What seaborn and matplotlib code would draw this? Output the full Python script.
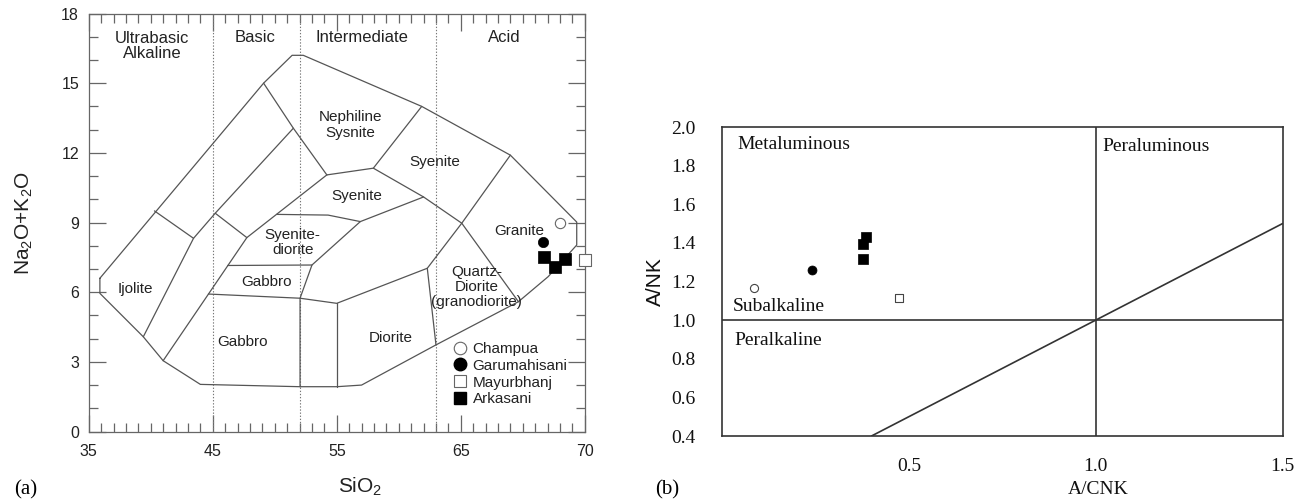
import numpy as np
import pandas as pd
import matplotlib
matplotlib.use("Agg")
import matplotlib.pyplot as plt
import seaborn as sns
from matplotlib.lines import Line2D
from matplotlib.ticker import MultipleLocator, FixedLocator

# ---------------- Panel (a): TAS diagram (plutonic) ----------------
sio2_ticks = [35, 45, 55, 65, 75]
sio2_tick_labels = ["35", "45", "55", "65", "70"]
alk_ticks = [0, 3, 6, 9, 12, 15, 18]
class_bounds = [45, 52, 63]
class_names = ["Ultrabasic\nAlkaline", "Basic", "Intermediate", "Acid"]
class_x = [40.1, 48.4, 57.0, 68.5]
class_y = [16.6, 16.95, 16.95, 16.95]

outer = [(35.9, 6.6), (35.9, 5.95), (39.4, 4.08), (41.0, 3.05), (44.0, 2.03),
         (52.04, 1.93), (55.0, 1.93), (57.0, 2.0), (63.0, 3.73), (69.65, 5.59),
         (72.05, 6.67), (74.35, 8.03), (74.35, 9.02), (69.0, 11.9), (61.85, 14.0),
         (52.3, 16.2), (51.4, 16.2), (49.1, 15.0), (35.9, 6.6)]
ijolite_top = [(40.3, 9.5), (43.45, 8.32)]
ijolite_right = [(39.4, 4.08), (43.45, 8.32), (45.2, 9.4), (51.5, 13.06)]
strip_cross = [(45.2, 9.4), (47.75, 8.35)]
gabbro_left = [(41.0, 3.05), (47.75, 8.35), (54.2, 11.05)]
nepheline_left = [(49.1, 15.0), (51.5, 13.06), (54.2, 11.05)]
nepheline_bottom = [(54.2, 11.05), (57.95, 11.34), (61.85, 14.0)]
syenite_bottom = [(57.95, 11.34), (62.0, 10.1), (65.08, 8.97), (69.65, 5.59)]
granite_left = [(69.0, 11.9), (65.08, 8.97), (62.3, 7.03), (63.0, 3.73)]
syenite2_bottom = [(62.0, 10.1), (56.9, 9.04), (54.3, 9.32), (50.16, 9.35)]
syenodiorite_right = [(56.9, 9.04), (53.0, 7.17), (52.04, 5.74), (52.04, 1.93)]
gabbro_upper_top = [(46.2, 7.15), (53.0, 7.17)]
gabbro_lower_top = [(44.65, 5.92), (52.04, 5.74), (55.0, 5.52), (62.3, 7.03)]
diorite_left = [(55.0, 5.52), (55.0, 1.93)]
tas_lines = [outer, ijolite_top, ijolite_right, strip_cross, gabbro_left,
             nepheline_left, nepheline_bottom, syenite_bottom, granite_left,
             syenite2_bottom, syenodiorite_right, gabbro_upper_top,
             gabbro_lower_top, diorite_left]

field_names = ["Nephiline\nSysnite", "Syenite", "Syenite", "Syenite-\ndiorite",
               "Gabbro", "Gabbro", "Ijolite", "Diorite",
               "Quartz-\nDiorite\n(granodiorite)", "Granite"]
field_x = [56.07, 62.93, 56.61, 51.45, 49.35, 47.39, 38.73, 59.38, 66.29, 69.73]
field_y = [13.2, 11.59, 10.14, 8.13, 6.45, 3.87, 6.12, 4.01, 6.21, 8.63]

# samples (SiO2, Na2O+K2O)
champua_sio2, champua_alk = [73.0], [8.97]
garu_sio2, garu_alk = [71.6], [8.17]
mayur_sio2, mayur_alk = [75.0], [7.39]
arka_sio2, arka_alk = [71.75, 72.6, 73.4], [7.53, 7.07, 7.43]

# ---------------- Panel (b): A/NK vs A/CNK ----------------
acnk_ticks = [0.5, 1.0, 1.5]
ank_ticks = [0.4, 0.6, 0.8, 1.0, 1.2, 1.4, 1.6, 1.8, 2.0]
divider_acnk = 1.0
divider_ank = 1.0
diag_x = [0.4, 1.5]
diag_y = [0.4, 1.5]
region_names = ["Metaluminous", "Peraluminous", "Subalkaline", "Peralkaline"]
region_x = [0.042, 1.018, 0.029, 0.034]
region_y = [1.907, 1.898, 1.069, 0.897]

champua_acnk, champua_ank = [0.086], [1.168]
garu_acnk, garu_ank = [0.242], [1.259]
arka_acnk, arka_ank = [0.376, 0.376, 0.386], [1.316, 1.394, 1.432]
mayur_acnk, mayur_ank = [0.474], [1.116]

# ---------------- styling ----------------
sns.set_style("white")
plt.rcParams['font.family'] = ['Liberation Sans', 'DejaVu Sans']
plt.rcParams['mathtext.fontset'] = 'custom'
plt.rcParams['mathtext.rm'] = 'Liberation Sans'
plt.rcParams['mathtext.it'] = 'Liberation Sans:italic'

fig = plt.figure(figsize=(13.03, 5.04), dpi=100)
axa = fig.add_axes([0.0681, 0.1438, 0.3807, 0.8294])
axb = fig.add_axes([0.5541, 0.1349, 0.4302, 0.6131])

LINE = '#555555'
TXT = '#222222'

# ---- panel a ----
rows = []
for i, seg in enumerate(tas_lines):
    for (x, y) in seg:
        rows.append((i, x, y))
df_tas = pd.DataFrame(rows, columns=['seg', 'x', 'y'])
sns.lineplot(data=df_tas, x='x', y='y', units='seg', estimator=None, sort=False,
             color=LINE, linewidth=0.9, ax=axa)
for b in class_bounds:
    axa.axvline(b, color='#777777', linestyle=(0, (1.2, 1.6)), linewidth=0.8, zorder=1)

for name, x, y in zip(class_names, class_x, class_y):
    axa.text(x, y, name, ha='center', va='center', fontsize=12, color=TXT,
             linespacing=1.05)
for name, x, y in zip(field_names, field_x, field_y):
    axa.text(x, y, name, ha='center', va='center', fontsize=11, color=TXT,
             linespacing=1.1)

sns.scatterplot(x=champua_sio2, y=champua_alk, marker='o', s=55, color='white',
                edgecolor='#666666', linewidth=0.8, ax=axa, zorder=5)
sns.scatterplot(x=garu_sio2, y=garu_alk, marker='o', s=55, color='black',
                edgecolor='black', linewidth=0.5, ax=axa, zorder=5)
sns.scatterplot(x=arka_sio2, y=arka_alk, marker='s', s=68, color='black',
                edgecolor='black', linewidth=0.5, ax=axa, zorder=5)
sns.scatterplot(x=mayur_sio2, y=mayur_alk, marker='s', s=68, color='white',
                edgecolor='#666666', linewidth=0.8, ax=axa, zorder=6, clip_on=False)

handles = [
    Line2D([], [], linestyle='none', marker='o', markersize=9, markerfacecolor='white',
           markeredgecolor='#666666', markeredgewidth=0.8, label='Champua'),
    Line2D([], [], linestyle='none', marker='o', markersize=9, markerfacecolor='black',
           markeredgecolor='black', label='Garumahisani'),
    Line2D([], [], linestyle='none', marker='s', markersize=9, markerfacecolor='white',
           markeredgecolor='#666666', markeredgewidth=0.8, label='Mayurbhanj'),
    Line2D([], [], linestyle='none', marker='s', markersize=9, markerfacecolor='black',
           markeredgecolor='black', label='Arkasani'),
]
leg = axa.legend(handles=handles, loc='upper left', bbox_to_anchor=(0.7325, 0.214),
                 frameon=False, fontsize=11, handlelength=1.0, handletextpad=0.35,
                 labelspacing=0.18, borderpad=0, borderaxespad=0)
for t in leg.get_texts():
    t.set_color(TXT)

axa.set_xlim(35, 75)
axa.set_ylim(0, 18)
axa.xaxis.set_major_locator(FixedLocator(sio2_ticks))
axa.set_xticklabels(sio2_tick_labels)
axa.xaxis.set_minor_locator(MultipleLocator(1))
axa.yaxis.set_major_locator(FixedLocator(alk_ticks))
axa.yaxis.set_minor_locator(MultipleLocator(1))
axa.tick_params(which='both', direction='in', top=True, right=True, bottom=True, left=True,
                color='#666666', labelcolor=TXT, labelsize=11.5)
axa.tick_params(which='major', length=12, width=0.9)
axa.tick_params(which='minor', length=6.5, width=0.9)
axa.tick_params(axis='x', which='major', pad=9)
axa.tick_params(axis='y', which='major', pad=7)
for sp in axa.spines.values():
    sp.set_color('#666666')
    sp.set_linewidth(0.9)
axa.set_xlabel('SiO$_2$', fontsize=15, color=TXT)
axa.xaxis.set_label_coords(0.548, -0.105)
axa.set_ylabel('Na$_2$O+K$_2$O', fontsize=15, color=TXT, labelpad=19)
fig.text(0.011, 0.028, '(a)', fontsize=15, family='Liberation Serif', color='black',
         ha='left', va='center')

# ---- panel b ----
DARK = '#333333'
axb.axhline(divider_ank, color=DARK, linewidth=1.2, zorder=1)
axb.axvline(divider_acnk, color=DARK, linewidth=1.2, zorder=1)
sns.lineplot(x=diag_x, y=diag_y, color=DARK, linewidth=1.2, ax=axb)

for name, x, y in zip(region_names, region_x, region_y):
    axb.text(x, y, name, ha='left', va='center', fontsize=14,
             family='Liberation Serif', color='#111111')

sns.scatterplot(x=champua_acnk, y=champua_ank, marker='o', s=34, color='white',
                edgecolor='#444444', linewidth=0.8, ax=axb, zorder=5)
sns.scatterplot(x=garu_acnk, y=garu_ank, marker='o', s=42, color='black',
                edgecolor='black', linewidth=0.5, ax=axb, zorder=5)
sns.scatterplot(x=arka_acnk, y=arka_ank, marker='s', s=48, color='black',
                edgecolor='black', linewidth=0.5, ax=axb, zorder=5)
sns.scatterplot(x=mayur_acnk, y=mayur_ank, marker='s', s=38, color='white',
                edgecolor='#444444', linewidth=0.8, ax=axb, zorder=5)

axb.set_xlim(0.0, 1.5)
axb.set_ylim(0.4, 2.0)
axb.xaxis.set_major_locator(FixedLocator(acnk_ticks))
axb.xaxis.set_minor_locator(MultipleLocator(0.1))
axb.yaxis.set_major_locator(FixedLocator(ank_ticks))
axb.set_xticklabels([f"{v:.1f}" for v in acnk_ticks])
axb.set_yticklabels([f"{v:.1f}" for v in ank_ticks])
axb.tick_params(which='both', direction='in', top=False, right=False, color=DARK,
                labelcolor='#111111', labelsize=14, width=1.0)
axb.tick_params(axis='x', which='both', length=7.5, pad=16)
axb.tick_params(axis='y', which='major', length=9.5, pad=19)
for lab in axb.get_xticklabels() + axb.get_yticklabels():
    lab.set_family('Liberation Serif')
for sp in axb.spines.values():
    sp.set_color(DARK)
    sp.set_linewidth(1.2)
axb.set_xlabel('A/CNK', fontsize=14, family='Liberation Serif', color='#111111')
axb.xaxis.set_label_coords(0.671, -0.145)
axb.set_ylabel('A/NK', fontsize=15, color='#111111')
axb.yaxis.set_label_coords(-0.102, 0.5)
fig.text(0.503, 0.028, '(b)', fontsize=15, family='Liberation Serif', color='black',
         ha='left', va='center')

fig.savefig('out.png', dpi=100)
